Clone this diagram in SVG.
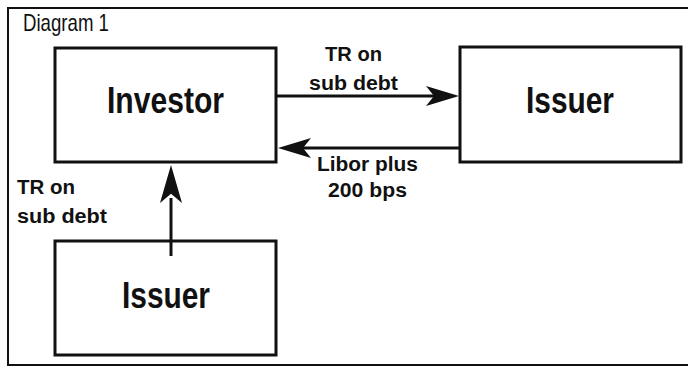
<svg xmlns="http://www.w3.org/2000/svg" width="688" height="367" viewBox="0 0 688 367">
<style>
.frame{fill:none;stroke:#111;stroke-width:2}
.box{fill:#fff;stroke:#111;stroke-width:3}
.con{stroke:#111;stroke-width:3;fill:none}
.ah{fill:#111}
text{font-family:"Liberation Sans Narrow","Liberation Sans",Arial,sans-serif;fill:#111}
.big{font-size:37px;font-weight:bold}
.lab{font-size:20px;font-weight:bold}
.title{font-size:24px;font-weight:normal}
</style>
<defs>
<path id="head" d="M0,0 L-33,-10 L-25,0 L-33,10 Z"/>
</defs>
<rect class="frame" x="8" y="8" width="690" height="357"/>
<text class="title" x="23" y="31" textLength="86" lengthAdjust="spacingAndGlyphs">Diagram 1</text>
<g id="investor">
<rect class="box" x="55" y="48" width="221" height="114"/>
<text class="big" x="107" y="113" textLength="117" lengthAdjust="spacingAndGlyphs">Investor</text>
</g>
<g id="issuer-right">
<rect class="box" x="460" y="47" width="221" height="115"/>
<text class="big" x="526" y="113" textLength="88" lengthAdjust="spacingAndGlyphs">Issuer</text>
</g>
<g id="issuer-bottom">
<rect class="box" x="55" y="241" width="221" height="114"/>
<text class="big" x="122" y="308" textLength="88" lengthAdjust="spacingAndGlyphs">Issuer</text>
</g>
<g id="connectors">
<line class="con" x1="277" y1="96" x2="434" y2="96"/>
<use href="#head" class="ah" transform="translate(459,96)"/>
<line class="con" x1="459" y1="148" x2="303" y2="148"/>
<use href="#head" class="ah" transform="translate(278,148) rotate(180)"/>
<line class="con" x1="171" y1="256" x2="171" y2="198"/>
<use href="#head" class="ah" transform="translate(171,165) rotate(-90) scale(1.15,1.1)"/>
</g>
<g id="labels">
<text class="lab" x="325" y="61" textLength="57" lengthAdjust="spacingAndGlyphs">TR on</text>
<text class="lab" x="309" y="90" textLength="89" lengthAdjust="spacingAndGlyphs">sub debt</text>
<text class="lab" x="317" y="171" textLength="101" lengthAdjust="spacingAndGlyphs">Libor plus</text>
<text class="lab" x="328" y="197" textLength="79" lengthAdjust="spacingAndGlyphs">200 bps</text>
<text class="lab" x="17" y="194" textLength="58" lengthAdjust="spacingAndGlyphs">TR on</text>
<text class="lab" x="17" y="223" textLength="90" lengthAdjust="spacingAndGlyphs">sub debt</text>
</g>
</svg>
